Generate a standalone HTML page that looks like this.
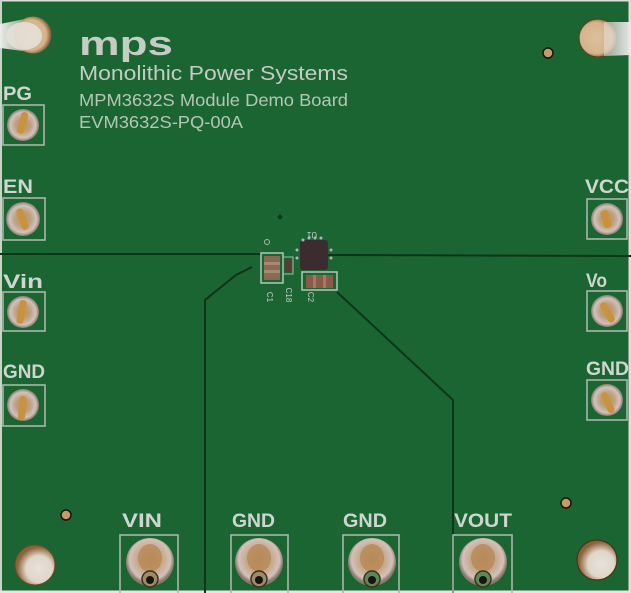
<!DOCTYPE html>
<html>
<head>
<meta charset="utf-8">
<style>
html,body{margin:0;padding:0;background:#1b6532;}
svg{display:block;}
text{font-family:"Liberation Sans",sans-serif;}
</style>
</head>
<body>
<svg width="631" height="593" viewBox="0 0 631 593" xmlns="http://www.w3.org/2000/svg">
<defs>
  <radialGradient id="sideConn" cx="50%" cy="50%" r="50%">
    <stop offset="0" stop-color="#c49050"/>
    <stop offset="0.45" stop-color="#bca080"/>
    <stop offset="0.8" stop-color="#d0c2bc"/>
    <stop offset="1" stop-color="#8a7c70"/>
  </radialGradient>
  <radialGradient id="botConn" cx="50%" cy="45%" r="50%">
    <stop offset="0" stop-color="#b88a58"/>
    <stop offset="0.5" stop-color="#c4a688"/>
    <stop offset="0.85" stop-color="#d2c2ba"/>
    <stop offset="1" stop-color="#8a7a6e"/>
  </radialGradient>
  <radialGradient id="bigHole" cx="60%" cy="60%" r="55%">
    <stop offset="0" stop-color="#e6e2dc"/>
    <stop offset="0.6" stop-color="#e0d6c8"/>
    <stop offset="1" stop-color="#8a6238"/>
  </radialGradient>
  <radialGradient id="tanHole" cx="45%" cy="50%" r="55%">
    <stop offset="0" stop-color="#dcc09c"/>
    <stop offset="0.75" stop-color="#d4b48a"/>
    <stop offset="1" stop-color="#7a5430"/>
  </radialGradient>
  <linearGradient id="whiteR" x1="0" y1="0" x2="1" y2="0">
    <stop offset="0" stop-color="#e0d8d0" stop-opacity="0.6"/>
    <stop offset="1" stop-color="#e8e8ea"/>
  </linearGradient>
  <linearGradient id="whiteL" x1="0" y1="0" x2="1" y2="0">
    <stop offset="0" stop-color="#ecebe8"/>
    <stop offset="1" stop-color="#e2dcd2" stop-opacity="0.5"/>
  </linearGradient>
</defs>

<!-- board -->
<rect x="0" y="0" width="631" height="593" fill="#1b6532"/>

<!-- edges -->
<rect x="0" y="0" width="631" height="1.5" fill="#d8e0d8"/>
<rect x="0" y="0" width="2" height="593" fill="#c8d4c8"/>
<rect x="628.5" y="0" width="2.5" height="593" fill="#d8e0d8"/>
<rect x="0" y="590.5" width="631" height="2.5" fill="#e0e6e0"/>

<!-- traces -->
<g stroke="#0d3519" stroke-width="2" fill="none">
  <line x1="0" y1="254" x2="262" y2="254"/>
  <line x1="327" y1="255" x2="631" y2="256"/>
  <polyline points="252,267 236,275 205,300 205,593"/>
  <polyline points="337,292 453,400 453,593"/>
</g>

<!-- holes -->
<path d="M0,24 L30,18 L30,52 L0,48 Z" fill="url(#whiteL)"/>
<circle cx="33" cy="35" r="18.5" fill="url(#tanHole)"/>
<ellipse cx="24" cy="36" rx="18" ry="14" fill="#e6e2dc" opacity="0.85"/>

<circle cx="598" cy="38" r="19" fill="url(#tanHole)" stroke="#5a3a1e" stroke-width="1"/>
<path d="M604,22 L631,22 L631,55 L604,56 Z" fill="url(#whiteR)"/>

<circle cx="35" cy="565" r="20" fill="url(#bigHole)" stroke="#6a4a28" stroke-width="1"/>
<circle cx="597" cy="560" r="20" fill="url(#bigHole)" stroke="#4a3218" stroke-width="1.2"/>

<g fill="#c89a68" stroke="#14160e" stroke-width="1.5">
  <circle cx="548" cy="53" r="5"/>
  <circle cx="66" cy="515" r="5"/>
  <circle cx="566" cy="503" r="5"/>
</g>

<!-- logo & titles -->
<g fill="#c4ccc4">
  <text x="79" y="55" font-size="34" font-weight="bold" textLength="94" lengthAdjust="spacingAndGlyphs">mps</text>
  <text x="79" y="80" font-size="20.5" textLength="269" lengthAdjust="spacingAndGlyphs">Monolithic Power Systems</text>
</g>
<g fill="#b4c6b4">
  <text x="79" y="106" font-size="17.5" textLength="269" lengthAdjust="spacingAndGlyphs">MPM3632S Module Demo Board</text>
  <text x="79" y="128" font-size="17.5" textLength="164" lengthAdjust="spacingAndGlyphs">EVM3632S-PQ-00A</text>
</g>

<!-- side labels -->
<g fill="#cfd6cf" font-weight="bold" font-size="19">
  <text x="3" y="100" textLength="29" lengthAdjust="spacingAndGlyphs">PG</text>
  <text x="3" y="193" textLength="30" lengthAdjust="spacingAndGlyphs">EN</text>
  <text x="3" y="288" textLength="40" lengthAdjust="spacingAndGlyphs">Vin</text>
  <text x="3" y="378" textLength="42" lengthAdjust="spacingAndGlyphs">GND</text>
  <text x="585" y="193" textLength="44" lengthAdjust="spacingAndGlyphs">VCC</text>
  <text x="586" y="287" textLength="21" lengthAdjust="spacingAndGlyphs">Vo</text>
  <text x="586" y="375" textLength="43" lengthAdjust="spacingAndGlyphs">GND</text>
  <text x="122" y="527" textLength="40" lengthAdjust="spacingAndGlyphs">VIN</text>
  <text x="232" y="527" textLength="43" lengthAdjust="spacingAndGlyphs">GND</text>
  <text x="343" y="527" textLength="44" lengthAdjust="spacingAndGlyphs">GND</text>
  <text x="454" y="527" textLength="58" lengthAdjust="spacingAndGlyphs">VOUT</text>
</g>

<!-- connector squares -->
<g fill="none" stroke="#a9b6a9" stroke-width="1.6">
  <rect x="3" y="105" width="41" height="40"/>
  <rect x="3" y="198" width="42" height="42"/>
  <rect x="3" y="292" width="42" height="39"/>
  <rect x="3" y="385" width="42" height="41"/>
  <rect x="587" y="199" width="40" height="40"/>
  <rect x="587" y="291" width="40" height="40"/>
  <rect x="587" y="380" width="40" height="40"/>
  <rect x="120" y="535" width="58" height="62"/>
  <rect x="231" y="535" width="57" height="62"/>
  <rect x="343" y="535" width="56" height="62"/>
  <rect x="453" y="535" width="59" height="62"/>
</g>

<!-- side connectors -->
<g>
  <circle cx="23" cy="125" r="16" fill="url(#sideConn)"/>
  <rect x="19" y="112" width="7" height="22" rx="3" fill="#c8923e" transform="rotate(15 23 123)"/>
  <circle cx="23" cy="219" r="17" fill="url(#sideConn)"/>
  <rect x="19" y="208" width="7" height="22" rx="3" fill="#c8923e" transform="rotate(-20 23 219)"/>
  <circle cx="23" cy="312" r="16" fill="url(#sideConn)"/>
  <rect x="18" y="300" width="7" height="24" rx="3" fill="#c8923e" transform="rotate(10 22 312)"/>
  <circle cx="23" cy="405" r="16" fill="url(#sideConn)"/>
  <rect x="19" y="396" width="7" height="24" rx="3" fill="#c8923e" transform="rotate(5 22 405)"/>

  <circle cx="607" cy="219" r="16" fill="url(#sideConn)"/>
  <rect x="602" y="210" width="8" height="18" rx="3" fill="#c8923e" transform="rotate(-15 606 219)"/>
  <circle cx="607" cy="311" r="16" fill="url(#sideConn)"/>
  <rect x="603" y="302" width="7" height="22" rx="3" fill="#c8923e" transform="rotate(-30 606 311)"/>
  <circle cx="607" cy="400" r="16" fill="url(#sideConn)"/>
  <rect x="603" y="392" width="7" height="22" rx="3" fill="#c8923e" transform="rotate(-25 606 400)"/>
</g>

<!-- bottom connectors -->
<g>
  <g>
    <circle cx="150" cy="562" r="24" fill="url(#botConn)"/>
    <ellipse cx="150" cy="558" rx="12" ry="14" fill="#b88a58" opacity="0.8"/>
    <circle cx="150" cy="579" r="8" fill="#9c8c68" stroke="#3a3020" stroke-width="1.5"/>
    <circle cx="150" cy="580" r="4" fill="#1a1410"/>
  </g>
  <g>
    <circle cx="259" cy="562" r="24" fill="url(#botConn)"/>
    <ellipse cx="259" cy="558" rx="12" ry="14" fill="#b88a58" opacity="0.8"/>
    <circle cx="259" cy="579" r="8" fill="#9c8c68" stroke="#3a3020" stroke-width="1.5"/>
    <circle cx="259" cy="580" r="4" fill="#1a1410"/>
  </g>
  <g>
    <circle cx="372" cy="562" r="24" fill="url(#botConn)"/>
    <ellipse cx="372" cy="558" rx="12" ry="14" fill="#b88a58" opacity="0.8"/>
    <circle cx="372" cy="579" r="8" fill="#5a8a58" stroke="#3a3020" stroke-width="1.5"/>
    <circle cx="372" cy="580" r="4" fill="#1a1410"/>
  </g>
  <g>
    <circle cx="483" cy="562" r="24" fill="url(#botConn)"/>
    <ellipse cx="483" cy="558" rx="12" ry="14" fill="#b88a58" opacity="0.8"/>
    <circle cx="483" cy="579" r="8" fill="#5a8a58" stroke="#3a3020" stroke-width="1.5"/>
    <circle cx="483" cy="580" r="4" fill="#1a1410"/>
  </g>
</g>

<!-- central components -->
<g>
  <rect x="278" y="215" width="4" height="4" fill="#0d3519" transform="rotate(45 280 217)"/>
  <circle cx="267" cy="242" r="2.5" fill="none" stroke="#a8b8a8" stroke-width="1"/>
  <!-- C1 -->
  <rect x="261" y="253" width="22" height="30" fill="none" stroke="#b8c4b8" stroke-width="1.5"/>
  <rect x="264" y="256" width="16" height="24" fill="#8a6a52"/>
  <rect x="264" y="262" width="16" height="3" fill="#a88a70"/>
  <rect x="264" y="270" width="16" height="3" fill="#a88a70"/>
  <!-- C18 -->
  <rect x="283" y="257" width="10" height="17" fill="none" stroke="#a8b8a8" stroke-width="1"/>
  <rect x="285" y="259" width="6" height="13" fill="#5a3a34"/>
  <!-- U1 -->
  <rect x="300" y="240" width="28" height="30" rx="3" fill="#3c2c30"/>
  <g fill="#a8b8b0">
    <circle cx="303" cy="240" r="1.5"/><circle cx="309" cy="238" r="1.5"/><circle cx="315" cy="238" r="1.5"/><circle cx="321" cy="238" r="1.5"/>
    <circle cx="297" cy="250" r="1.5"/><circle cx="297" cy="258" r="1.5"/>
    <circle cx="331" cy="250" r="1.5"/><circle cx="331" cy="258" r="1.5"/>
  </g>
  <text x="312" y="226" font-size="8" fill="#c8d0c8" text-anchor="middle" transform="rotate(180 312 229)">U1</text>
  <!-- C2 -->
  <rect x="302" y="272" width="35" height="18" fill="none" stroke="#b8c4b8" stroke-width="1.5"/>
  <rect x="306" y="275" width="27" height="13" fill="#8a5a48"/>
  <rect x="313" y="275" width="3" height="13" fill="#a07a62"/>
  <rect x="323" y="275" width="3" height="13" fill="#a07a62"/>
  <!-- labels -->
  <g fill="#c8d0c8" font-size="8">
    <text x="270" y="300" text-anchor="middle" transform="rotate(90 270 297)">C1</text>
    <text x="289" y="298" text-anchor="middle" transform="rotate(90 289 295)">C18</text>
    <text x="311" y="300" text-anchor="middle" transform="rotate(90 311 297)">C2</text>
  </g>
</g>
</svg>
</body>
</html>
